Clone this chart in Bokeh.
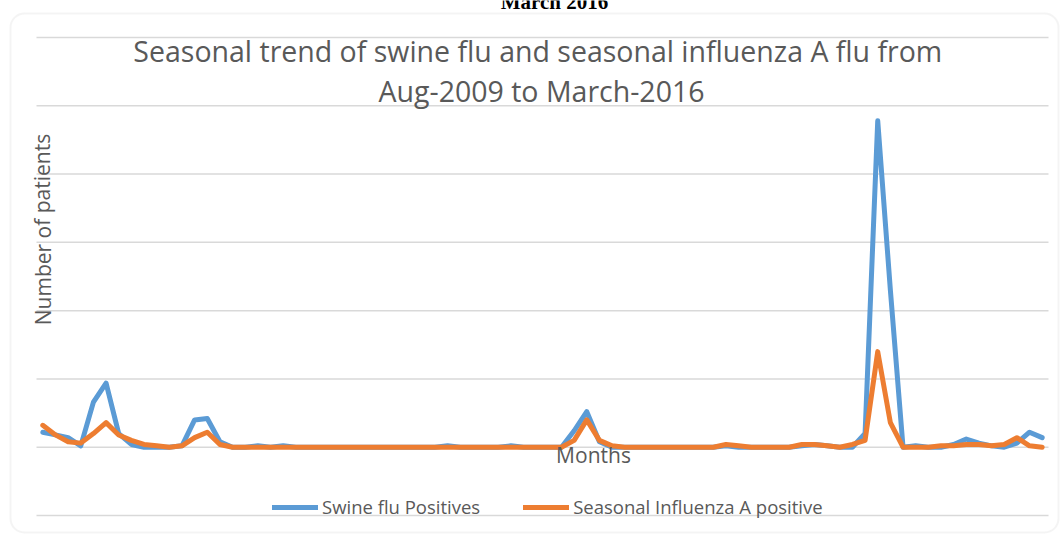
from bokeh.plotting import figure
from bokeh.models import Range1d, Label, Legend, LegendItem, BoxAnnotation
from bokeh.embed import file_html
from bokeh.resources import INLINE

# Months Aug-2009 .. Mar-2016 (80 months)
month_names = ["Jan", "Feb", "Mar", "Apr", "May", "Jun", "Jul", "Aug", "Sep", "Oct", "Nov", "Dec"]
months = []
for yr in range(2009, 2017):
    for m in month_names:
        months.append(f"{m}-{yr}")
months = months[months.index("Aug-2009"):months.index("Mar-2016") + 1]
month_idx = list(range(len(months)))

swine_flu = [11, 9, 7, 1, 33, 47, 10, 2, 0, 0,
             0, 1, 20, 21, 4, 0, 0, 1, 0, 1,
             0, 0, 0, 0, 0, 0, 0, 0, 0, 0,
             0, 0, 1, 0, 0, 0, 0, 1, 0, 0,
             0, 0, 12, 26, 4, 0, 0, 0, 0, 0,
             0, 0, 0, 0, 1, 0, 0, 0, 0, 0,
             1, 2, 1, 0, 0, 10, 239, 115, 0, 1,
             0, 0, 2, 6, 3, 1, 0, 3, 11, 7]

influenza_a = [16, 9, 4, 3, 10, 18, 9, 5, 2, 1,
               0, 1, 7, 11, 2, 0, 0, 0, 0, 0,
               0, 0, 0, 0, 0, 0, 0, 0, 0, 0,
               0, 0, 0, 0, 0, 0, 0, 0, 0, 0,
               0, 0, 5, 20, 5, 1, 0, 0, 0, 0,
               0, 0, 0, 0, 2, 1, 0, 0, 0, 0,
               2, 2, 1, 0, 2, 5, 70, 18, 0, 0,
               0, 1, 1, 2, 2, 1, 2, 7, 1, 0]

grid_ticks = [-50, 0, 50, 100, 150, 200, 250, 300]

TEXT = "#595959"
FONT = "Open Sans"

W, H = 1061, 535
# plot area (gridlines) spans page x 36..1048, page y 37 (300) .. 515 (-50)
PX_PER_MONTH = (1048 - 36) / len(months)
PX_PER_UNIT = (515 - 37) / (grid_ticks[-1] - grid_ticks[0])


def dx(px):
    return -0.5 + (px - 36) / PX_PER_MONTH


def dy(py):
    return grid_ticks[0] + (515 - py) / PX_PER_UNIT


p = figure(width=W, height=H, title=None,
           x_axis_type=None, y_axis_type=None,
           x_range=Range1d(dx(0), dx(W)), y_range=Range1d(dy(H), dy(0)),
           output_backend="svg", toolbar_location=None,
           min_border_left=0, min_border_right=0, min_border_top=0, min_border_bottom=0)
p.outline_line_color = None
p.background_fill_color = "white"
p.border_fill_color = "white"

# horizontal gridlines over the plot area
p.segment(x0=[-0.5] * len(grid_ticks), x1=[len(months) - 0.5] * len(grid_ticks),
          y0=grid_ticks, y1=grid_ticks, line_color="#d9d9d9", line_width=1.5)

r1 = p.line(month_idx, swine_flu, line_color="#5B9BD5", line_width=5,
            line_join="round", line_cap="round")
r2 = p.line(month_idx, influenza_a, line_color="#ED7D31", line_width=5,
            line_join="round", line_cap="round")

border = BoxAnnotation(left=dx(10), right=dx(1058), top=dy(13), bottom=dy(532),
                       fill_alpha=0, line_color="#d9d9d9", line_width=2,
                       border_radius=14, level="underlay")
p.add_layout(border)

p.add_layout(Label(x=dx(554), y=dy(1), text="March 2016", text_align="center",
                   text_baseline="alphabetic", text_font="Liberation Serif",
                   text_font_style="bold", text_font_size="21px", text_color="black"))
p.add_layout(Label(x=dx(541), y=dy(50), text="Seasonal trend of swine flu and seasonal  influenza A flu from",
                   text_align="center", text_baseline="middle", text_font=FONT,
                   text_font_size="28.5px", text_color=TEXT))
p.add_layout(Label(x=dx(541), y=dy(90), text="Aug-2009 to March-2016",
                   text_align="center", text_baseline="middle", text_font=FONT,
                   text_font_size="28.5px", text_color=TEXT))
p.add_layout(Label(x=dx(42), y=dy(229), text="Number of patients", angle=1.5708,
                   text_align="center", text_baseline="middle", text_font=FONT,
                   text_font_size="21px", text_color=TEXT))
p.add_layout(Label(x=dx(593), y=dy(454), text="Months",
                   text_align="center", text_baseline="middle", text_font=FONT,
                   text_font_size="21px", text_color=TEXT))

legend = Legend(items=[LegendItem(label="Swine flu Positives", renderers=[r1]),
                       LegendItem(label="Seasonal Influenza A positive", renderers=[r2])],
                orientation="horizontal", location=(272, H - 519),
                glyph_width=46, glyph_height=20, label_standoff=4, spacing=43,
                padding=0, margin=0, border_line_color=None, background_fill_alpha=0,
                label_text_font=FONT, label_text_font_size="18.5px", label_text_color=TEXT)
p.add_layout(legend)

open("out.html", "w").write(file_html(p, INLINE))
